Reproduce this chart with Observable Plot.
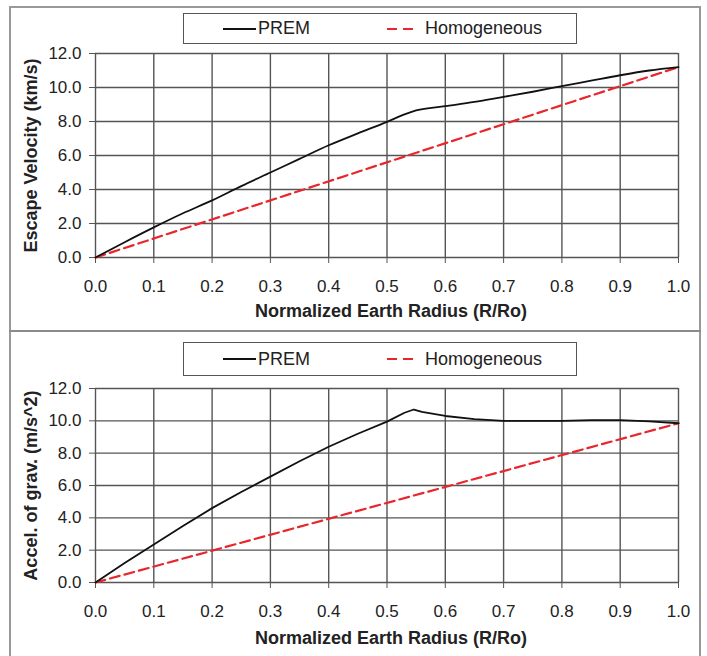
<!DOCTYPE html>
<html><head><meta charset="utf-8">
<script src="https://cdn.jsdelivr.net/npm/d3@7"></script>
<script src="https://cdn.jsdelivr.net/npm/@observablehq/plot@0.6"></script>
<style>
body{margin:0;background:#fff;font-family:"Liberation Sans",Arial,sans-serif;}
#wrap{position:relative;width:707px;height:656px;overflow:hidden;background:#fff}
.frame{position:absolute;left:9px;top:6px;width:692px;height:670px;border:2px solid #999;box-sizing:border-box}
.divider{position:absolute;left:9px;top:330px;width:692px;height:2px;background:#8a8a8a}
.panel{position:absolute;left:0}
.legend{position:absolute;left:183px;width:394px;border:1.5px solid #555;box-sizing:border-box;background:#fff;font-size:18px;color:#222}
.legend .it{position:absolute;top:0;bottom:0;display:flex;align-items:center}
.legend svg{display:block}
</style></head>
<body><div id="wrap"><div class="frame"></div><div class="divider"></div></div>
<script>
// ---- data ----
const xTicks = [0, 0.1, 0.2, 0.3, 0.4, 0.5, 0.6, 0.7, 0.8, 0.9, 1.0];
const yTicks = [0, 2, 4, 6, 8, 10, 12];
const seriesNames = ["PREM", "Homogeneous"];

// Escape velocity (km/s)
const escPremR = [0, 0.05, 0.1, 0.15, 0.2, 0.25, 0.3, 0.35, 0.4, 0.45, 0.5, 0.53, 0.55, 0.6, 0.65, 0.7, 0.75, 0.8, 0.85, 0.9, 0.95, 1.0];
const escPremV = [0, 0.9, 1.77, 2.6, 3.36, 4.2, 5.0, 5.8, 6.6, 7.3, 7.98, 8.42, 8.65, 8.9, 9.15, 9.45, 9.75, 10.08, 10.4, 10.72, 11.0, 11.2];
const escHomR = [0, 1.0];
const escHomV = [0, 11.2];

// Acceleration of gravity (m/s^2)
const accPremR = [0, 0.05, 0.1, 0.15, 0.2, 0.25, 0.3, 0.35, 0.4, 0.45, 0.5, 0.53, 0.546, 0.56, 0.6, 0.65, 0.7, 0.8, 0.85, 0.9, 0.95, 1.0];
const accPremV = [0, 1.2, 2.35, 3.5, 4.6, 5.6, 6.55, 7.5, 8.4, 9.2, 9.95, 10.5, 10.7, 10.55, 10.3, 10.1, 10.0, 10.0, 10.05, 10.05, 9.97, 9.85];
const accHomR = [0, 1.0];
const accHomV = [0, 9.85];

const xTitle = "Normalized Earth Radius (R/Ro)";
const yTitleTop = "Escape Velocity (km/s)";
const yTitleBottom = "Accel. of grav. (m/s^2)";

const zip = (r, v) => r.map((d, i) => ({r: d, v: v[i]}));
const fmt = d3.format(".1f");
const wrap = document.getElementById("wrap");

function panel({top, height, marginTop, marginBottom, prem, hom, yTitle, titleDy, legendTop, legendH, curve}) {
  const chart = Plot.plot({
    width: 707, height,
    marginLeft: 95, marginRight: 29, marginTop, marginBottom,
    x: {domain: [0, 1]},
    y: {domain: [0, 12]},
    style: {fontFamily: "'Liberation Sans', Arial, sans-serif", fontSize: "17px", color: "#222", background: "transparent"},
    marks: [
      Plot.ruleX(xTicks, {x: d => d, stroke: "#555", strokeWidth: 1.4}),
      Plot.ruleY(yTicks, {y: d => d, stroke: "#555", strokeWidth: 1.4}),
      Plot.axisX({ticks: xTicks, tickFormat: fmt, tickSize: 6, tickPadding: 16, label: null, stroke: "#555"}),
      Plot.axisY({ticks: yTicks, tickFormat: fmt, tickSize: 6, tickPadding: 8, label: null, stroke: "#555"}),
      Plot.line(hom, {x: "r", y: "v", stroke: "#e8262b", strokeWidth: 2.2, strokeDasharray: "10,5"}),
      Plot.line(prem, {x: "r", y: "v", stroke: "#111", strokeWidth: 1.8, curve}),
      Plot.text([xTitle], {text: d => d, frameAnchor: "bottom", dy: titleDy, dx: 4, textAnchor: "middle", lineAnchor: "middle", fontWeight: "bold", fontSize: 18, fill: "#222"}),
      Plot.text([yTitle], {text: d => d, frameAnchor: "left", dx: -64, rotate: -90, textAnchor: "middle", lineAnchor: "middle", fontWeight: "bold", fontSize: 18, fill: "#222"})
    ]
  });
  chart.classList.add("panel");
  chart.style.top = top + "px";
  wrap.appendChild(chart);

  const lg = document.createElement("div");
  lg.className = "legend";
  lg.style.top = legendTop + "px";
  lg.style.height = legendH + "px";
  lg.innerHTML =
    `<div class="it" style="left:39px"><svg width="33" height="4"><line x1="0" x2="33" y1="2" y2="2" stroke="#111" stroke-width="2"/></svg><span style="margin-left:2px">${seriesNames[0]}</span></div>` +
    `<div class="it" style="left:203px"><svg width="30" height="4"><line x1="0" x2="30" y1="2" y2="2" stroke="#e8262b" stroke-width="2.2" stroke-dasharray="10,6"/></svg><span style="margin-left:8px">${seriesNames[1]}</span></div>`;
  wrap.appendChild(lg);
}

panel({top: 0, height: 330, marginTop: 53, marginBottom: 73, prem: zip(escPremR, escPremV), hom: zip(escHomR, escHomV), yTitle: yTitleTop, titleDy: 54, legendTop: 13, legendH: 31, curve: "monotone-x"});
panel({top: 331, height: 325, marginTop: 57, marginBottom: 74, prem: zip(accPremR, accPremV), hom: zip(accHomR, accHomV), yTitle: yTitleBottom, titleDy: 56, legendTop: 342, legendH: 34, curve: "linear"});
</script>
</body></html>
